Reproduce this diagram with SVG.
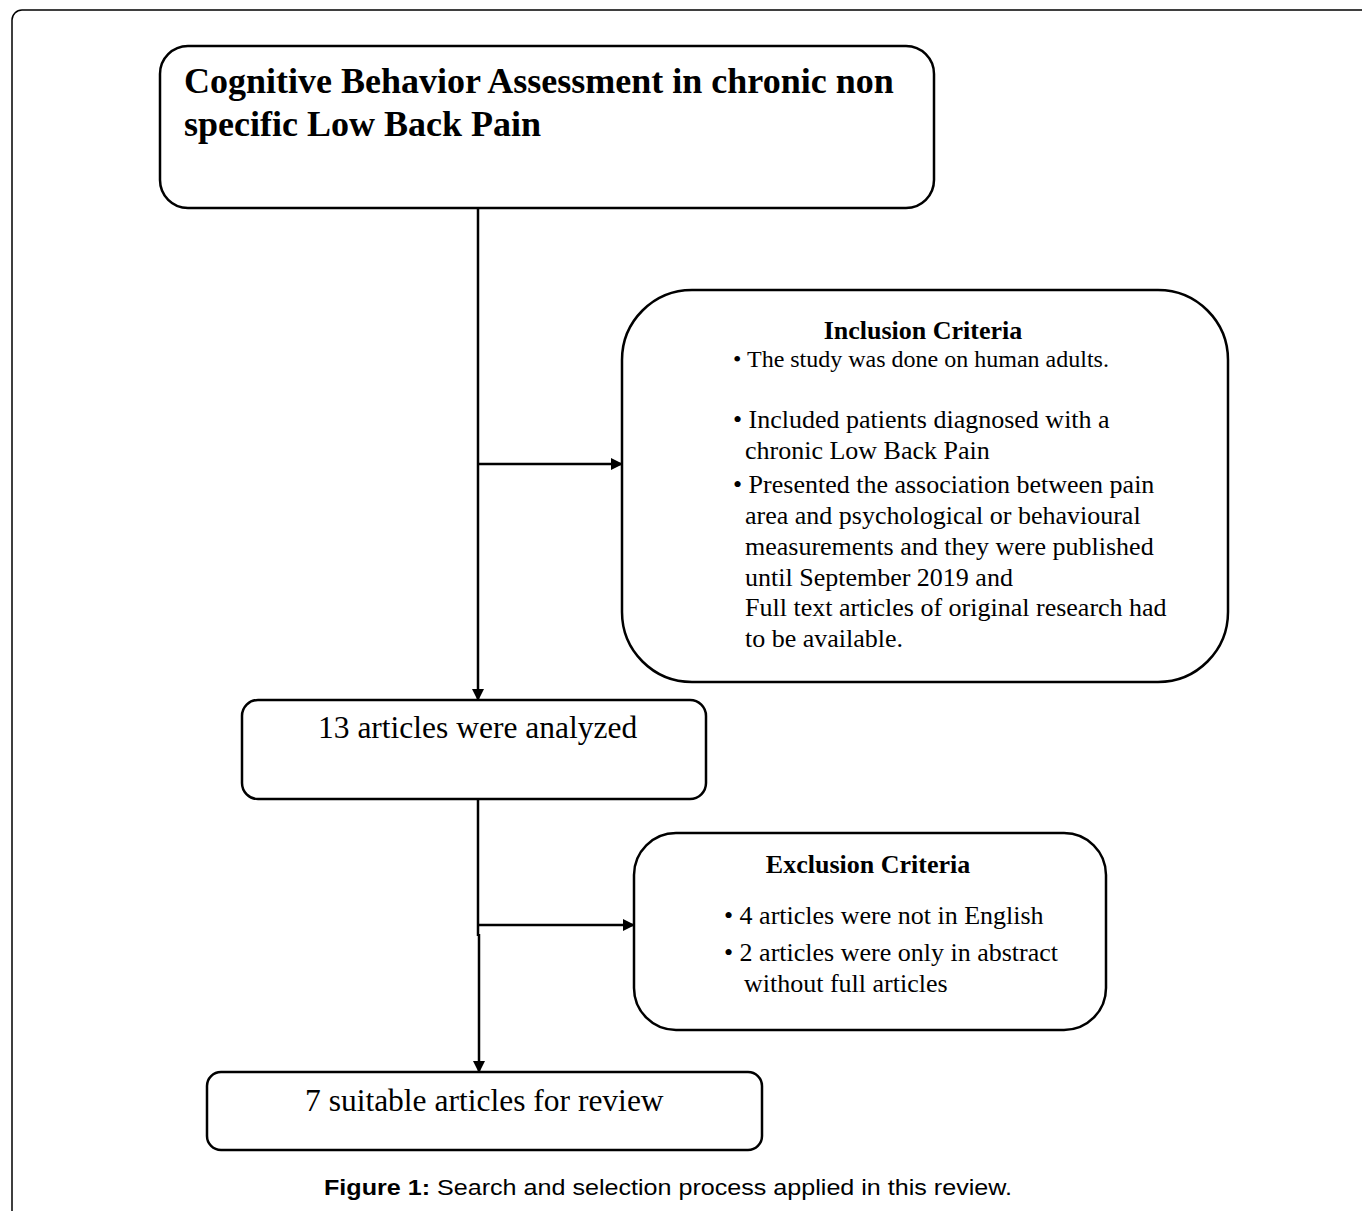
<svg xmlns="http://www.w3.org/2000/svg" width="1362" height="1211" viewBox="0 0 1362 1211">
<defs>
<marker id="arr" markerWidth="12" markerHeight="12" refX="11" refY="6" orient="auto" markerUnits="userSpaceOnUse">
<path d="M0,0 L12,6 L0,12 Z" fill="#000"/>
</marker>
<style>
.box{fill:#fff;stroke:#000;stroke-width:2.5}
.ln{stroke:#000;stroke-width:2.5;fill:none}
.t{font-family:"Liberation Serif","Times New Roman",serif;fill:#000}
.b{font-weight:bold}
.cap{font-family:"Liberation Sans",Arial,sans-serif;font-size:22px;fill:#000}
</style>
</defs>
<rect x="12" y="10" width="1400" height="1300" rx="10" fill="#fff" stroke="#000" stroke-width="1.5"/>
<g id="connectors">
<line class="ln" x1="478" y1="208" x2="478" y2="700" marker-end="url(#arr)"/>
<line class="ln" x1="478" y1="464" x2="622" y2="464" marker-end="url(#arr)"/>
<line class="ln" x1="478" y1="799" x2="478" y2="936"/>
<line class="ln" x1="479" y1="934" x2="479" y2="1072" marker-end="url(#arr)"/>
<line class="ln" x1="478" y1="925" x2="634" y2="925" marker-end="url(#arr)"/>
</g>
<g id="title">
<rect class="box" x="160" y="46" width="774" height="162" rx="28"/>
<text class="t b" x="184" y="93" font-size="36">Cognitive Behavior Assessment in chronic non</text>
<text class="t b" x="184" y="136" font-size="36">specific Low Back Pain</text>
</g>
<g id="inclusion">
<rect class="box" x="622" y="290" width="606" height="392" rx="70"/>
<text class="t b" x="923" y="339" font-size="26" text-anchor="middle">Inclusion Criteria</text>
<g class="t" font-size="26">
<text x="733" y="367" font-size="24">• The study was done on human adults.</text>
<text x="733" y="428">• Included patients diagnosed with a</text>
<text x="745" y="459">chronic Low Back Pain</text>
<text x="733" y="493">• Presented the association between pain</text>
<text x="745" y="524">area and psychological or behavioural</text>
<text x="745" y="555">measurements and they were published</text>
<text x="745" y="586">until September 2019 and</text>
<text x="745" y="616">Full text articles of original research had</text>
<text x="745" y="647">to be available.</text>
</g>
</g>
<g id="analyzed">
<rect class="box" x="242" y="700" width="464" height="99" rx="16"/>
<text class="t" x="318" y="738" font-size="31.5">13 articles were analyzed</text>
</g>
<g id="exclusion">
<rect class="box" x="634" y="833" width="472" height="197" rx="42"/>
<text class="t b" x="868" y="873" font-size="26" text-anchor="middle">Exclusion Criteria</text>
<g class="t" font-size="26">
<text x="724" y="924">• 4 articles were not in English</text>
<text x="724" y="961">• 2 articles were only in abstract</text>
<text x="744" y="992">without full articles</text>
</g>
</g>
<g id="suitable">
<rect class="box" x="207" y="1072" width="555" height="78" rx="14"/>
<text class="t" x="305" y="1111" font-size="31.5">7 suitable articles for review</text>
</g>
<text class="cap" x="324" y="1195" textLength="688" lengthAdjust="spacingAndGlyphs"><tspan font-weight="bold">Figure 1:</tspan> Search and selection process applied in this review.</text>
</svg>
